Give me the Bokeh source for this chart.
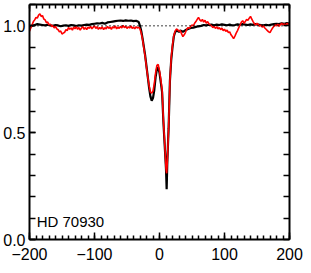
from math import pi
from bokeh.plotting import figure
from bokeh.models import (LinearAxis, Range1d, FixedTicker, CustomJSTickFormatter,
                          Label, Span, ColumnDataSource)
from bokeh.embed import file_html
from bokeh.resources import INLINE

# ---------------- data ----------------
# black spectrum (smoother, coarser sampling)
velocity_black = [
    -200, -196, -192, -188, -184, -180, -176, -172, -168, -164, -160, -156, -152,
    -148, -144, -140, -136, -132, -128, -124, -120, -116, -112, -108, -104, -100,
    -96, -92, -88, -84, -80, -76, -72, -68, -64, -60, -56, -52, -48, -44, -40,
    -36, -32,
    -30, -28, -26, -24, -22, -20, -18, -16, -14, -12, -10, -8, -6, -4, -2, 0,
    2, 4, 6, 8, 10, 11, 12, 14, 16, 18, 20, 22, 24, 26, 28, 30,
    32, 36, 40, 44, 48, 52, 56, 60, 64, 68, 72, 76, 80, 84, 88, 92, 96, 100,
    104, 108, 112, 116, 120, 124, 128, 132, 136, 140, 144, 148, 152, 156, 160,
    164, 168, 172, 176, 180, 184, 188, 192, 196, 200,
]
flux_black = [
    0.995, 1.000, 1.004, 1.008, 1.006, 1.004, 1.002, 1.005, 1.003, 1.000, 1.004,
    1.002, 0.998, 1.001, 1.003, 1.000, 1.004, 1.002, 0.999, 1.003, 1.001, 1.004,
    1.006, 1.005, 1.008, 1.010, 1.012, 1.011, 1.014, 1.010, 1.016, 1.018, 1.020,
    1.022, 1.024, 1.025, 1.023, 1.026, 1.024, 1.025, 1.022, 1.024, 1.018,
    1.000, 0.975, 0.940, 0.900, 0.860, 0.810, 0.760, 0.710, 0.670, 0.650, 0.662,
    0.700, 0.760, 0.798, 0.805, 0.780, 0.735, 0.690, 0.550, 0.440, 0.330, 0.235,
    0.360, 0.520, 0.740, 0.840, 0.900, 0.950, 0.970, 0.978, 0.976, 0.972,
    0.978, 0.972, 0.980, 0.985, 0.990, 0.992, 0.995, 0.998, 1.000, 1.004, 1.002,
    1.005, 1.006, 1.003, 1.006, 1.004, 1.007, 1.005, 1.003, 1.006, 1.002, 1.004,
    1.007, 1.005, 1.008, 1.006, 1.004, 1.007, 1.005, 1.008, 1.006, 1.004, 1.002,
    1.005, 1.003, 1.006, 1.008, 1.010, 1.008, 1.012, 1.010, 1.013, 1.011,
]

# red spectrum (noisier, finer sampling)
velocity_red = [
    -200, -198, -196, -194, -192, -190, -188, -186, -184, -182, -180, -178, -176,
    -174, -172, -170, -168, -166, -164, -162, -160, -158, -156, -154, -152, -150,
    -148, -146, -144, -142, -140, -138, -136, -134, -132, -130, -128, -126, -124,
    -122, -120, -118, -116, -114, -112, -110, -108, -106, -104, -102, -100, -98,
    -96, -94, -92, -90, -88, -86, -84, -82, -80, -78, -76, -74, -72, -70, -68,
    -66, -64, -62, -60, -58, -56, -54, -52, -50, -48, -46, -44, -42, -40, -38,
    -36, -34, -32,
    -30, -28, -26, -24, -22, -20, -18, -16, -14, -12, -10, -8, -6, -4, -2, 0,
    2, 4, 6, 8, 10, 11, 12, 14, 16, 18, 20, 22, 24, 26, 28, 30,
    32, 34, 36, 38, 40, 42, 44, 46, 48, 50, 52, 54, 56, 58, 60, 62, 64, 66, 68,
    70, 72, 74, 76, 78, 80, 82, 84, 86, 88, 90, 92, 94, 96, 98, 100, 102, 104,
    106, 108, 110, 112, 114, 116, 118, 120, 122, 124, 126, 128, 130, 132, 134,
    136, 138, 140, 142, 144, 146, 148, 150, 152, 154, 156, 158, 160, 162, 164,
    166, 168, 170, 172, 174, 176, 178, 180, 182, 184, 186, 188, 190, 192, 194,
    196, 198, 200,
]
flux_red = [
    0.975, 0.990, 1.005, 1.020, 1.028, 1.040, 1.036, 1.050, 1.056, 1.044, 1.048,
    1.032, 1.028, 1.015, 1.018, 1.004, 1.008, 0.996, 1.002, 0.990, 0.998, 0.986,
    0.982, 0.972, 0.976, 0.962, 0.966, 0.970, 0.982, 0.978, 0.992, 0.984, 0.990,
    0.980, 0.994, 0.986, 0.996, 0.984, 0.992, 0.980, 0.990, 0.996, 0.984, 0.992,
    0.982, 0.994, 0.988, 0.998, 0.986, 0.994, 1.000, 0.988, 0.996, 0.984, 0.992,
    0.986, 0.996, 0.982, 0.992, 0.986, 0.998, 0.988, 0.994, 0.984, 0.996, 0.990,
    1.000, 0.986, 0.994, 0.988, 0.998, 0.990, 1.002, 0.992, 0.998, 0.988, 0.996,
    0.990, 1.000, 0.988, 0.994, 0.986, 0.996, 0.990, 0.994,
    0.985, 0.965, 0.935, 0.895, 0.855, 0.805, 0.760, 0.720, 0.690, 0.685, 0.695,
    0.730, 0.780, 0.815, 0.820, 0.790, 0.750, 0.700, 0.560, 0.450, 0.330, 0.310,
    0.360, 0.520, 0.740, 0.850, 0.910, 0.955, 0.975, 0.985, 0.982, 0.975,
    0.978, 0.962, 0.950, 0.958, 0.970, 0.984, 0.992, 0.988, 0.998, 1.004, 1.000,
    1.012, 1.020, 1.030, 1.040, 1.028, 1.022, 1.030, 1.018, 1.026, 1.012, 1.020,
    1.010, 1.004, 1.000, 0.992, 0.998, 0.988, 0.996, 0.986, 0.992, 0.982, 0.990,
    0.978, 0.984, 0.974, 0.980, 0.968, 0.972, 0.958, 0.950, 0.940, 0.952, 0.966,
    0.978, 0.992, 1.004, 1.018, 1.024, 1.012, 1.020, 1.030, 1.026, 1.036, 1.044,
    1.032, 1.020, 1.010, 1.004, 1.012, 1.006, 0.998, 1.004, 0.994, 1.000, 0.990,
    0.984, 0.978, 0.972, 0.968, 0.980, 0.990, 0.998, 1.004, 1.000, 1.008, 0.998,
    1.006, 1.012, 1.004, 1.010, 1.002, 1.012, 1.008, 1.004,
]

star_name = "HD 70930"
x_major_ticks = [-200, -100, 0, 100, 200]
x_minor_ticks = [-200, -190, -180, -170, -160, -150, -140, -130, -120, -110,
                 -100, -90, -80, -70, -60, -50, -40, -30, -20, -10, 0, 10, 20,
                 30, 40, 50, 60, 70, 80, 90, 100, 110, 120, 130, 140, 150, 160,
                 170, 180, 190, 200]
y_major_ticks = [0.0, 0.5, 1.0]
y_minor_ticks = [0.0, 0.1, 0.2, 0.3, 0.4, 0.5, 0.6, 0.7, 0.8, 0.9, 1.0, 1.1]
continuum_level = 1.0

# ---------------- figure ----------------
FONT = "Liberation Sans"
X0, X1, Y0, Y1 = -200, 200, 0.0, 1.1

p = figure(width=303, height=265, output_backend="svg", toolbar_location=None,
           x_range=Range1d(X0, X1), y_range=Range1d(Y0, Y1),
           min_border_left=26, min_border_right=14, min_border_top=4,
           min_border_bottom=26, x_axis_location=None, y_axis_location=None)
p.grid.visible = False
p.outline_line_color = None
p.background_fill_color = "white"
p.border_fill_color = "white"

xfmt = CustomJSTickFormatter(code="return tick.toFixed(0).replace('-', '\u2212');")
yfmt = CustomJSTickFormatter(code="return tick.toFixed(1);")


def style_axis(ax, major_in, minor_in):
    ax.axis_line_width = 2
    ax.axis_line_color = "black"
    ax.major_tick_in = major_in
    ax.major_tick_out = 0
    ax.minor_tick_in = minor_in
    ax.minor_tick_out = 0
    ax.major_tick_line_width = 1.5
    ax.minor_tick_line_width = 1.5
    ax.major_tick_line_color = "black"
    ax.minor_tick_line_color = "black"
    ax.major_label_text_font = FONT
    ax.major_label_text_font_size = "16px"
    ax.major_label_text_color = "black"


# bottom axis with labels
xb = LinearAxis(ticker=FixedTicker(ticks=x_major_ticks, minor_ticks=x_minor_ticks),
                formatter=xfmt)
style_axis(xb, 7, 4)
xb.major_label_standoff = 8
p.add_layout(xb, "below")

# top axis: minor ticks only (no labels)
xt = LinearAxis(ticker=FixedTicker(ticks=[], minor_ticks=x_minor_ticks))
style_axis(xt, 0, 4)
p.add_layout(xt, "above")

# left axis with labels
yl = LinearAxis(ticker=FixedTicker(ticks=y_major_ticks, minor_ticks=y_minor_ticks),
                formatter=yfmt)
style_axis(yl, 6, 6)
yl.major_label_standoff = 4
p.add_layout(yl, "left")

# right axis: ticks only
yr = LinearAxis(ticker=FixedTicker(ticks=[], minor_ticks=y_minor_ticks))
style_axis(yr, 0, 6)
p.add_layout(yr, "right")

# longer major ticks on the top edge
p.ray(x=x_major_ticks, y=[Y1] * len(x_major_ticks), length=7, angle=-pi / 2,
      length_units="screen", line_color="black", line_width=1.5)

# continuum (dotted)
p.add_layout(Span(location=continuum_level, dimension="width",
                  line_color="black", line_width=1.5, line_dash="1 3"))

src_b = ColumnDataSource(dict(v=velocity_black, f=flux_black))
src_r = ColumnDataSource(dict(v=velocity_red, f=flux_red))
p.line("v", "f", source=src_b, line_color="black", line_width=2.2)
p.line("v", "f", source=src_r, line_color="#ff0000", line_width=1.6)

p.add_layout(Label(x=-189, y=0.045, text=star_name, text_font=FONT,
                   text_font_size="15px", text_color="black"))

open("out.html", "w").write(file_html(p, INLINE))
